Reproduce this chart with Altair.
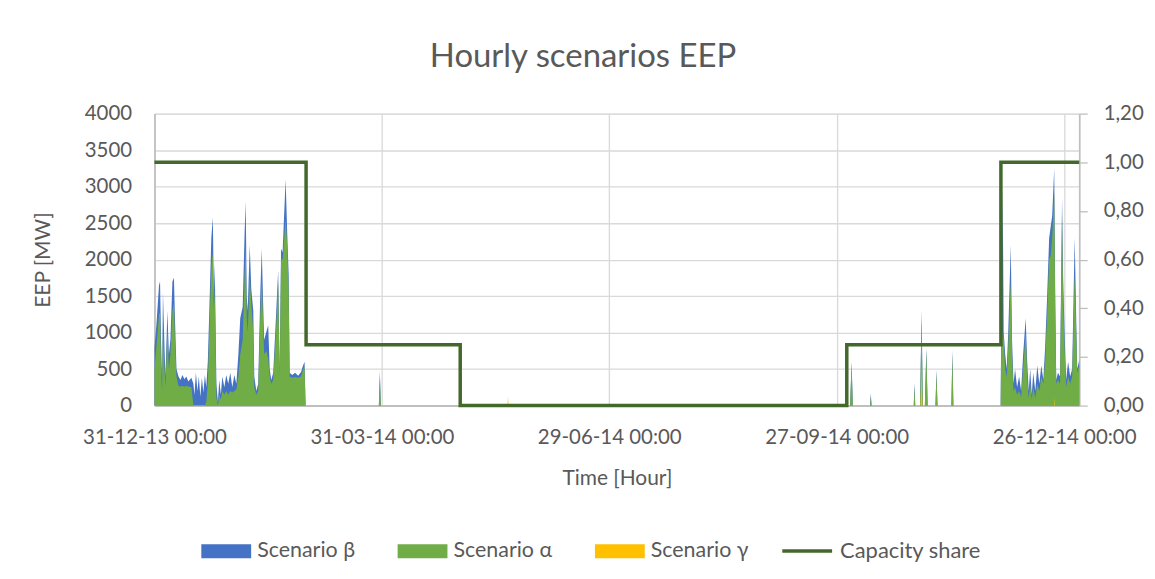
import altair as alt
import pandas as pd

# ---------------- data ----------------
# time as day offsets from 31-12-2013 00:00
days_ab = [0.0, 0.75, 1.8, 2.2, 2.6, 3.0, 3.35, 3.95, 4.35, 5.1, 5.7, 6.3, 7.1, 7.7, 8.1, 8.7, 9.5,
           10.3, 11.05, 11.85, 12.6, 13.4, 14.6, 15.4, 15.8, 16.4, 17.0, 17.55, 18.15, 18.75, 19.35,
           19.95, 20.5, 21.1, 21.7, 22.5, 23.1, 23.5, 23.85, 24.5, 25.1, 25.65, 26.25, 26.85, 27.65,
           28.4, 29.2, 30.0, 30.8, 31.6, 32.4, 33.2, 33.95, 34.9, 35.7, 36.1, 36.5, 36.9, 37.7, 38.3,
           39.1, 39.5, 40.3, 41.05, 41.85, 42.45, 42.85, 43.4, 44.2, 45.0, 45.6, 46.2, 47.0, 48.2,
           48.95, 49.55, 50.1, 50.7, 51.9, 52.5, 53.1, 53.5, 54.5, 55.65, 56.85, 58.0, 58.8, 59.4, 59.8,
           88.8, 89.2, 89.6,
           275.3, 275.9, 276.4,
           283.2, 283.5, 283.8,
           300.5, 300.8, 301.1,
           303.0, 303.6, 304.1,
           304.9, 305.5, 306.0,
           309.1, 309.5, 309.9,
           315.4, 315.8, 316.2,
           334.9, 335.1, 335.7, 336.1, 336.7, 337.3, 337.9, 338.9, 339.4, 340.0, 340.6, 341.4, 342.2,
           343.0, 343.8, 344.8, 345.4, 346.0, 346.6, 347.2, 347.8, 348.6, 349.4, 350.2, 351.0, 351.8,
           352.5, 353.3, 354.1, 354.7, 355.3, 356.1, 356.5, 356.9, 357.6, 358.4, 359.2, 359.6, 360.2,
           360.8, 361.6, 362.4, 363.2, 364.2, 364.8, 365.2, 366.0]

beta = [800, 1100, 1650, 1700, 900, 350, 1550, 800, 400, 1300, 700, 900, 1700, 1750, 1200, 500, 400,
        350, 420, 360, 400, 330, 380, 300, 150, 450, 200, 400, 120, 380, 180,
        420, 250, 600, 1300, 2300, 2580, 1500, 1950, 300, 50, 350, 150, 400, 250,
        420, 300, 450, 250, 420, 300, 700, 1200, 1350, 2400, 2800, 1500, 1300, 2200, 1600,
        1300, 400, 200, 300, 1500, 2150, 1600, 900, 1000, 1100, 500, 350, 450, 1300,
        1850, 450, 2150, 2100, 3100, 2400, 1800, 450, 420, 450, 410, 460, 550, 600, 0,
        0, 470, 0,
        0, 600, 0,
        0, 170, 0,
        0, 310, 0,
        0, 1310, 0,
        0, 790, 0,
        0, 490, 0,
        0, 760, 0,
        0, 1000, 3000, 1000, 700, 500, 1000, 2200, 900, 300, 500, 250, 400,
        200, 700, 1200, 600, 200, 500, 150, 450, 200, 550, 300, 550, 350,
        800, 1500, 2300, 2450, 2600, 3250, 1500, 350, 450, 400, 2850, 1800, 1000,
        350, 600, 400, 500, 2300, 1200, 500, 620]

alpha = [500, 800, 1250, 1280, 500, 200, 1000, 500, 250, 1050, 500, 700, 1300, 1400, 900, 400, 270,
         260, 270, 260, 270, 260, 250, 0, 0, 0, 0, 0, 0, 0, 0,
         0, 50, 300, 1000, 1900, 2100, 1300, 1600, 100, 0, 150, 80, 200, 150,
         200, 150, 200, 180, 200, 220, 400, 700, 900, 1800, 2200, 1200, 1000, 1750, 1400,
         1000, 250, 150, 200, 1200, 1750, 1300, 700, 750, 650, 400, 300, 350, 1100,
         1700, 400, 2000, 2000, 2550, 2200, 1600, 400, 380, 390, 380, 400, 500, 520, 0,
         0, 380, 0,
         0, 560, 0,
         0, 120, 0,
         0, 250, 0,
         0, 1180, 0,
         0, 740, 0,
         0, 450, 0,
         0, 700, 0,
         0, 800, 1000, 900, 500, 400, 800, 1700, 700, 200, 250, 150, 200,
         120, 500, 1000, 400, 100, 300, 80, 250, 100, 300, 200, 400, 300,
         600, 1250, 2000, 2050, 2300, 2900, 1300, 300, 350, 300, 2600, 1500, 800,
         250, 400, 300, 400, 1800, 1000, 450, 550]

days_g = [0.0, 139.7, 139.9, 140.1, 303.2, 303.6, 303.9, 356.0, 356.1, 356.3, 366.0]
gamma = [0, 0, 130, 0, 0, 540, 0, 0, 110, 0, 0]

cap_dates = ["2013-12-31", "2014-03-01", "2014-05-01", "2014-10-01", "2014-12-01", "2015-01-01"]
cap_share = [1.0, 0.25, 0.0, 0.25, 1.0, 1.0]

series_names = ["Scenario β", "Scenario α", "Scenario γ"]
series_colors = ["#4472C4", "#70AD47", "#FFC000"]
line_name = "Capacity share"
line_color = "#43682B"

# ---------------- tables ----------------
base = pd.Timestamp("2013-12-31 00:00")
def to_ts(days):
    return [(base + pd.Timedelta(days=d)).strftime("%Y-%m-%dT%H:%M:%S") for d in days]

df_beta = pd.DataFrame({"t": to_ts(days_ab), "v": beta, "s": series_names[0]})
df_alpha = pd.DataFrame({"t": to_ts(days_ab), "v": alpha, "s": series_names[1]})
df_gamma = pd.DataFrame({"t": to_ts(days_g), "v": gamma, "s": series_names[2]})
df_cap = pd.DataFrame({"t": [d + "T00:00:00" for d in cap_dates], "share": cap_share, "s": line_name})

FONT = "Lato"
TXT = "#595959"
GRID = "#d9d9d9"
AXL = "#bfbfbf"

tick_dates = [alt.DateTime(year=2013, month=12, date=31),
              alt.DateTime(year=2014, month=3, date=31),
              alt.DateTime(year=2014, month=6, date=29),
              alt.DateTime(year=2014, month=9, date=27),
              alt.DateTime(year=2014, month=12, date=26)]

x_enc = alt.X("t:T",
              scale=alt.Scale(domain=[alt.DateTime(year=2013, month=12, date=31),
                                      alt.DateTime(year=2015, month=1, date=1)]),
              axis=alt.Axis(values=tick_dates, format="%d-%m-%y %H:%M", title="Time [Hour]",
                            grid=True, gridColor=GRID, gridWidth=1.3, ticks=False,
                            labelFlush=False, labelOverlap=False, labelBound=False,
                            domainColor=AXL, domainWidth=2, labelPadding=22,
                            labelFont=FONT, labelFontSize=20.5, labelColor=TXT,
                            titleFont=FONT, titleFontSize=21, titleColor=TXT,
                            titleFontWeight="normal", titleY=79, titleBaseline="alphabetic"))

y_scale = alt.Scale(domain=[0, 4000])
y_axis = alt.Axis(values=list(range(0, 4001, 500)), format="d", title="EEP [MW]",
                  grid=True, gridColor=GRID, gridWidth=1.3, ticks=False,
                  domainColor=AXL, domainWidth=1.7, labelPadding=23,
                  labelFont=FONT, labelFontSize=20.5, labelColor=TXT,
                  titleFont=FONT, titleFontSize=21, titleColor=TXT, titleFontWeight="normal",
                  titleX=-105, titleBaseline="alphabetic", titleAngle=-90)

fill_scale = alt.Scale(domain=series_names, range=series_colors)
fill_legend = alt.Legend(title=None, orient="none", legendX=47, legendY=414, direction="horizontal",
                         symbolType="M-1,-0.28H1V0.28H-1Z", symbolSize=2500, symbolStrokeWidth=0,
                         symbolOpacity=1,
                         labelFont=FONT, labelFontSize=21.5, labelColor=TXT, labelOffset=6,
                         columnPadding=42)

def area_layer(df):
    return alt.Chart(df).mark_area(interpolate="linear", opacity=1).encode(
        x=x_enc, y=alt.Y("v:Q", scale=y_scale, axis=y_axis),
        fill=alt.Fill("s:N", scale=fill_scale, legend=fill_legend))

areas = alt.layer(area_layer(df_beta), area_layer(df_alpha), area_layer(df_gamma))

line = alt.Chart(df_cap).mark_line(interpolate="step-after", strokeWidth=3.5).encode(
    x=x_enc,
    y=alt.Y("share:Q", scale=alt.Scale(domain=[0, 1.2]),
            axis=alt.Axis(orient="right", values=[0, 0.2, 0.4, 0.6, 0.8, 1.0, 1.2],
                          labelExpr="replace(format(datum.value, '.2f'), '.', ',')",
                          grid=False, ticks=True, tickSize=8, tickColor=AXL, tickWidth=1.3,
                          domainColor=AXL, domainWidth=1.7, labelPadding=16, title=None,
                          labelFont=FONT, labelFontSize=20.5, labelColor=TXT)),
    stroke=alt.Stroke("s:N", scale=alt.Scale(domain=[line_name], range=[line_color]),
                      legend=alt.Legend(title=None, orient="none", legendX=628, legendY=412,
                                        symbolType="stroke", symbolSize=2500, symbolStrokeWidth=3.5,
                                        labelFont=FONT, labelFontSize=22, labelColor=TXT,
                                        labelOffset=6)))

chart = alt.layer(areas, line).resolve_scale(y="independent").properties(
    width=928, height=293,
    autosize=alt.AutoSizeParams(type="none"),
    padding={"left": 147, "top": 105, "right": 68, "bottom": 163},
    title=alt.TitleParams("Hourly scenarios EEP", font=FONT, fontSize=33, fontWeight="normal",
                          color=TXT, anchor="middle", frame="group", dx=-34, offset=4,
                          baseline="alphabetic"),
).configure_view(strokeWidth=0).configure(background="white")

chart.save("out.html", embed_options={"renderer": "svg", "actions": False})
